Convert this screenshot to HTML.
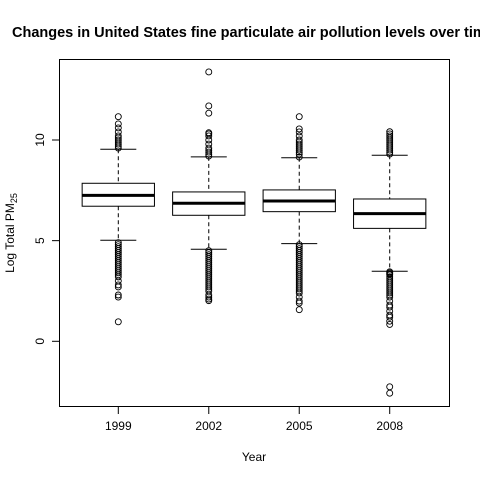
<!DOCTYPE html>
<html><head><meta charset="utf-8"><style>
body{margin:0;background:#fff}
svg{display:block;font-family:"Liberation Sans",sans-serif}
</style></head><body>
<svg id="chart" width="480" height="480" viewBox="0 0 480 480">
<rect width="480" height="480" fill="#fff"/>
<text x="12" y="37" font-size="14.5" font-weight="bold">Changes in United States fine particulate air pollution levels over time</text>
<text transform="translate(14,233) rotate(-90)" text-anchor="middle" font-size="12">Log Total PM<tspan font-size="9" dy="3">25</tspan></text>
<text x="254" y="461" text-anchor="middle" font-size="12">Year</text>
<rect x="59.5" y="59.5" width="390" height="347" fill="none" stroke="#000"/>
<g id="marks"></g>
</svg>
<script>
const categories=["1999","2002","2005","2008"];
const q1=[6.71,6.26,6.44,5.61];
const medians=[7.25,6.86,6.97,6.34];
const q3=[7.85,7.42,7.52,7.07];
const whiskLo=[5.02,4.57,4.85,3.48];
const whiskHi=[9.54,9.16,9.12,9.24];
const outHigh=[
 [9.6,9.7,9.8,9.9,10.0,10.1,10.2,10.4,10.6,10.8,11.16],
 [9.2,9.3,9.4,9.5,9.6,9.8,10.0,10.2,10.3,10.36,11.33,11.69,13.38],
 [9.15,9.3,9.4,9.5,9.6,9.7,9.8,9.9,10.0,10.2,10.4,10.55,11.16],
 [9.3,9.4,9.5,9.6,9.7,9.8,9.9,10.0,10.1,10.2,10.3,10.41]
];
const outLow=[
 [4.9,4.8,4.7,4.6,4.5,4.4,4.3,4.2,4.1,4.0,3.9,3.8,3.7,3.6,3.5,3.4,3.3,3.2,3.0,2.8,2.7,2.3,2.2,0.97],
 [4.5,4.4,4.3,4.2,4.1,4.0,3.9,3.8,3.7,3.6,3.5,3.4,3.3,3.2,3.1,3.0,2.9,2.8,2.7,2.6,2.5,2.3,2.2,2.1,2.02],
 [4.8,4.7,4.6,4.5,4.4,4.3,4.2,4.1,4.0,3.9,3.8,3.7,3.6,3.5,3.4,3.3,3.2,3.1,3.0,2.9,2.8,2.7,2.6,2.5,2.4,2.2,2.0,1.9,1.57],
 [3.45,3.4,3.35,3.3,3.2,3.1,3.0,2.9,2.8,2.7,2.6,2.5,2.4,2.3,2.2,2.0,1.8,1.7,1.5,1.3,1.2,1.0,0.84,-2.26,-2.58]
];
const yTicks=[0,5,10];
const NS="http://www.w3.org/2000/svg";
const g=document.getElementById("marks");
const y=v=>341.3-20.13*v;
const x=i=>118.3+i*90.47;
function mk(tag,attrs){const e=document.createElementNS(NS,tag);for(const k in attrs)e.setAttribute(k,attrs[k]);g.appendChild(e);return e;}
// y axis
mk("line",{x1:59.5,x2:59.5,y1:y(0),y2:y(10),stroke:"#000"});
yTicks.forEach(t=>{
 const l=mk("line",{x1:52,x2:59.5,y1:y(t),y2:y(t),stroke:"#000"});
 
 
 const tx=mk("text",{transform:`translate(44,${y(t)}) rotate(-90)`,"text-anchor":"middle","font-size":"12"});
 tx.textContent=t;
 
 
});
mk("line",{x1:x(0),x2:x(3),y1:406.5,y2:406.5,stroke:"#000"});
categories.forEach((c,i)=>{
 const cx=x(i),hw=36.15,cw=18;
 const tk=mk("line",{x1:cx,x2:cx,y1:406.5,y2:414,stroke:"#000"});
 
 
 const tl=mk("text",{x:cx,y:430,"text-anchor":"middle","font-size":"12"});
 tl.textContent=c;
 
 
 mk("line",{x1:cx,x2:cx,y1:y(whiskHi[i]),y2:y(q3[i]),stroke:"#000","stroke-dasharray":"4,3"});
 mk("line",{x1:cx,x2:cx,y1:y(q1[i]),y2:y(whiskLo[i]),stroke:"#000","stroke-dasharray":"4,3"});
 mk("line",{x1:cx-cw,x2:cx+cw,y1:y(whiskHi[i]),y2:y(whiskHi[i]),stroke:"#000"});
 mk("line",{x1:cx-cw,x2:cx+cw,y1:y(whiskLo[i]),y2:y(whiskLo[i]),stroke:"#000"});
 const b=mk("rect",{x:cx-hw,y:y(q3[i]),width:2*hw,height:y(q1[i])-y(q3[i]),fill:"#fff",stroke:"#000"});
 
 
 const m=mk("line",{x1:cx-hw,x2:cx+hw,y1:y(medians[i]),y2:y(medians[i]),stroke:"#000","stroke-width":3});
 
 
 outHigh[i].concat(outLow[i]).forEach(v=>{
  const p=mk("circle",{cx:cx,cy:y(v),r:3,fill:"none",stroke:"#000","stroke-width":0.9});
  
  
 });
});
</script>
</body></html>
